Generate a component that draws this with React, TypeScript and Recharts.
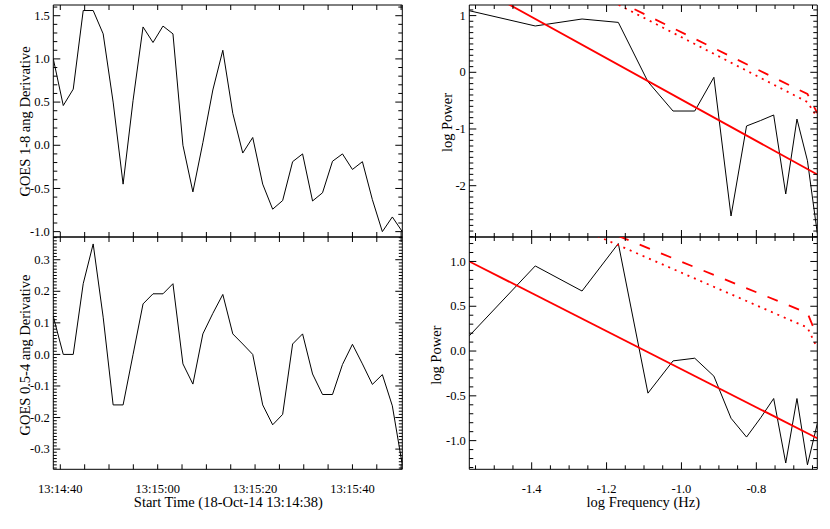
import React from 'react';
import { LineChart, Line, XAxis, YAxis, ReferenceArea } from 'recharts';

const FONT = '"Liberation Serif", "Times New Roman", serif';

// GOES sampling: first sample in seconds after 13:14:38, 2.048 s cadence
const firstSample = 0.56;
const cadence = 2.048;

// GOES 1-8 ang derivative
const goesLong = [
  1.0, 0.46, 0.65, 1.56, 1.56, 1.29, 0.5, -0.45, 0.52, 1.37, 1.19, 1.38,
  1.29, 0.0, -0.54, 0.03, 0.64, 1.1, 0.37, -0.09, 0.09, -0.45, -0.74, -0.64,
  -0.19, -0.1, -0.645, -0.55, -0.185, -0.1, -0.28, -0.19, -0.63, -1.0, -0.83, -1.0,
];

// GOES 0.5-4 ang derivative
const goesShort = [
  0.12, 0.0, 0.0, 0.224, 0.35, 0.118, -0.16, -0.16, 0.0, 0.16, 0.192, 0.192,
  0.224, -0.03, -0.094, 0.065, 0.13, 0.19, 0.065, 0.033, 0.0, -0.16, -0.223, -0.19,
  0.033, 0.065, -0.062, -0.127, -0.127, -0.032, 0.032, -0.03, -0.095, -0.064, -0.163, -0.35,
];

const timeTickValues = [2, 22, 42, 62];
const timeTickLabels = ['13:14:40', '13:15:00', '13:15:20', '13:15:40'];

// log frequency (Hz) of the periodogram bins
const logFreq = [
  -1.5666, -1.3905, -1.2655, -1.1686, -1.0895, -1.0225, -0.9645, -0.9134,
  -0.8676, -0.8262, -0.7884, -0.7537, -0.7215, -0.6915, -0.6635, -0.6372,
];
const powerLong = [
  1.086, 0.817, 0.94, 0.88, -0.166, -0.683, -0.683, -0.088,
  -2.535, -0.947, -0.85, -0.753, -2.146, -0.825, -1.559, -2.84,
];
const powerShort = [
  0.17, 0.95, 0.67, 1.2, -0.47, -0.11, -0.08, -0.28,
  -0.75, -0.96, -0.745, -0.53, -1.25, -0.53, -1.27, -0.81,
];

// power-law fit (first/last bin) and confidence levels (first, second last, last bin)
const fitLong = [1.583, -1.803];
const fitShort = [1.0, -0.973];
const conf95Long = [2.539, -0.383, -0.72];
const conf99Long = [2.546, -0.524, -0.8];
const conf95Short = [1.962, 0.424, 0.16];
const conf99Short = [1.906, 0.262, 0.03];

const range = (start: number, stop: number, step: number) => {
  const n = Math.floor((stop - start) / step + 1e-6) + 1;
  return Array.from({ length: n }, (_, i) => Math.round((start + i * step) * 1e6) / 1e6);
};
const multipleOf = (step: number) => (v: number) => {
  const q = v / step;
  return Math.abs(q - Math.round(q)) < 1e-6;
};

type Pt = { x: number; y: number };
type Series = { points: Pt[]; color: string; width: number; dash?: string };

type PanelCfg = {
  plot: [number, number, number, number]; // left, top, right, bottom (page px)
  column: [number, number];
  below: number;
  xDomain: [number, number];
  yDomain: [number, number];
  xTicks: number[];
  yTicks: number[];
  xMajor: (v: number) => boolean;
  yMajor: (v: number) => boolean;
  xLen: [number, number];
  yLen: [number, number];
  xLabel?: (v: number) => string;
  yLabel: (v: number) => string;
  series: Series[];
};

// tick labels from the axes
const makeXTick = (c: PanelCfg) => (props: any) => {
  const v = props.payload.value;
  if (!c.xLabel || !c.xMajor(v)) return <g />;
  return (
    <text x={Number(props.x)} y={Number(props.y) + 23.2} textAnchor="middle" fontSize={12.5} fontFamily={FONT} fill="#000">
      {c.xLabel(v)}
    </text>
  );
};
const makeYTick = (c: PanelCfg) => (props: any) => {
  const v = props.payload.value;
  if (!c.yMajor(v)) return <g />;
  return (
    <text x={Number(props.x) - 3.5} y={Number(props.y) + 4.2} textAnchor="end" fontSize={12.5} fontFamily={FONT} fill="#000">
      {c.yLabel(v)}
    </text>
  );
};

// inward tick marks on all four sides of the frame (decoration layer)
const makeTickMarks = (c: PanelCfg) => {
  const [pl, pt, pr, pb] = c.plot;
  const sx = (v: number) => pl + ((v - c.xDomain[0]) / (c.xDomain[1] - c.xDomain[0])) * (pr - pl);
  const sy = (v: number) => pb - ((v - c.yDomain[0]) / (c.yDomain[1] - c.yDomain[0])) * (pb - pt);
  let d = '';
  c.xTicks.forEach((v) => {
    const len = c.xMajor(v) ? c.xLen[0] : c.xLen[1];
    const x = sx(v).toFixed(2);
    d += `M${x},${pb}v${-len}M${x},${pt}v${len}`;
  });
  c.yTicks.forEach((v) => {
    const len = c.yMajor(v) ? c.yLen[0] : c.yLen[1];
    const y = sy(v).toFixed(2);
    d += `M${pl},${y}h${len}M${pr},${y}h${-len}`;
  });
  return d;
};

const makePanel = (c: PanelCfg) => ({ ...c, xTick: makeXTick(c), yTick: makeYTick(c), marks: makeTickMarks(c) });
type Panel = ReturnType<typeof makePanel>;

function PanelChart({ p }: { p: Panel }) {
  const [pl, pt, pr, pb] = p.plot;
  const width = p.column[1] - p.column[0];
  const height = pb - pt + 5 + p.below;
  return (
    <div style={{ position: 'absolute', left: p.column[0], top: pt - 5, width, height }}>
      <LineChart width={width} height={height} margin={{ top: 5, right: p.column[1] - pr, bottom: 0, left: 0 }}>
        <XAxis type="number" dataKey="x" height={p.below} domain={p.xDomain} ticks={p.xTicks} tick={p.xTick}
          tickSize={0} tickMargin={0} interval={0} allowDataOverflow axisLine={false} tickLine={false} />
        <YAxis type="number" dataKey="y" width={pl - p.column[0]} domain={p.yDomain} ticks={p.yTicks} tick={p.yTick}
          tickSize={0} tickMargin={0} interval={0} allowDataOverflow axisLine={false} tickLine={false} />
        {p.series.map((s, i) => (
          <Line key={i} data={s.points} dataKey="y" type="linear" stroke={s.color} strokeWidth={s.width}
            strokeDasharray={s.dash} dot={false} activeDot={false} isAnimationActive={false} />
        ))}
        <ReferenceArea x1={p.xDomain[0]} x2={p.xDomain[1]} y1={p.yDomain[0]} y2={p.yDomain[1]}
          fill="none" fillOpacity={0} stroke="#000" strokeWidth={1} ifOverflow="visible" />
      </LineChart>
    </div>
  );
}

const timeSeries = (vals: number[]) => vals.map((y, i) => ({ x: firstSample + i * cadence, y }));
const freqSeries = (vals: number[]) => vals.map((y, i) => ({ x: logFreq[i], y }));
const fitSeries = (vals: number[]) => [
  { x: logFreq[0], y: vals[0] },
  { x: logFreq[logFreq.length - 1], y: vals[1] },
];
const confSeries = (vals: number[]) => [
  { x: logFreq[0], y: vals[0] },
  { x: logFreq[logFreq.length - 2], y: vals[1] },
  { x: logFreq[logFreq.length - 1], y: vals[2] },
];

const fmt1 = (v: number) => (Math.round(v * 100) / 100).toFixed(1);
const fmt0 = (v: number) => (Math.round(v * 100) / 100).toFixed(0);
const timeFmt = (v: number) => timeTickLabels[timeTickValues.indexOf(v)] ?? '';

const LEFT: [number, number] = [0, 410];
const RIGHT: [number, number] = [410, 830];
const timeDomain: [number, number] = [firstSample, firstSample + (goesLong.length - 1) * cadence];
const freqDomain: [number, number] = [logFreq[0], logFreq[logFreq.length - 1]];
const timeTicks = range(2, 72, 5);
const freqTicks = range(-1.55, -0.65, 0.05);
const isTimeMajor = (v: number) => timeTickValues.includes(v);
const red = '#ff0000';

const panels: Panel[] = [
  makePanel({
    plot: [53.3, 5, 402.3, 237], column: LEFT, below: 6,
    xDomain: timeDomain, yDomain: [-1.062, 1.624],
    xTicks: timeTicks, yTicks: range(-1.0, 1.6, 0.1),
    xMajor: isTimeMajor, yMajor: multipleOf(0.5), xLen: [5, 5], yLen: [7, 4],
    yLabel: fmt1,
    series: [{ points: timeSeries(goesLong), color: '#000', width: 1 }],
  }),
  makePanel({
    plot: [53.3, 237, 402.3, 469.3], column: LEFT, below: 59.7,
    xDomain: timeDomain, yDomain: [-0.364, 0.372],
    xTicks: timeTicks, yTicks: range(-0.36, 0.37, 0.01),
    xMajor: isTimeMajor, yMajor: multipleOf(0.1), xLen: [5, 5], yLen: [7, 3.5],
    xLabel: timeFmt, yLabel: fmt1,
    series: [{ points: timeSeries(goesShort), color: '#000', width: 1 }],
  }),
  makePanel({
    plot: [469.3, 5, 817.3, 237], column: RIGHT, below: 6,
    xDomain: freqDomain, yDomain: [-2.905, 1.187],
    xTicks: freqTicks, yTicks: range(-2.9, 1.1, 0.1),
    xMajor: multipleOf(0.2), yMajor: multipleOf(1), xLen: [7, 4], yLen: [7, 4],
    yLabel: fmt0,
    series: [
      { points: freqSeries(powerLong), color: '#000', width: 1 },
      { points: fitSeries(fitLong), color: red, width: 1.8 },
      { points: confSeries(conf95Long), color: red, width: 1.8, dash: '11 12' },
      { points: confSeries(conf99Long), color: red, width: 1.8, dash: '2 5' },
    ],
  }),
  makePanel({
    plot: [469.3, 237, 817.3, 469.3], column: RIGHT, below: 59.7,
    xDomain: freqDomain, yDomain: [-1.32, 1.273],
    xTicks: freqTicks, yTicks: range(-1.3, 1.2, 0.1),
    xMajor: multipleOf(0.2), yMajor: multipleOf(0.5), xLen: [7, 4], yLen: [7, 4],
    xLabel: fmt1, yLabel: fmt1,
    series: [
      { points: freqSeries(powerShort), color: '#000', width: 1 },
      { points: fitSeries(fitShort), color: red, width: 1.8 },
      { points: confSeries(conf95Short), color: red, width: 1.8, dash: '11 12' },
      { points: confSeries(conf99Short), color: red, width: 1.8, dash: '2 5' },
    ],
  }),
];

export default function App() {
  return (
    <div style={{ position: 'absolute', left: 0, top: 0, width: 830, height: 529, background: '#fff', overflow: 'hidden' }}>
      {panels.map((p, i) => <PanelChart key={i} p={p} />)}
      <svg width={830} height={529} style={{ position: 'absolute', left: 0, top: 0, pointerEvents: 'none' }}>
        {panels.map((p, i) => (
          <path key={i} d={p.marks} stroke="#000" strokeWidth={1} fill="none" />
        ))}
        <g fontFamily={FONT} fontSize={14.5} fill="#000" textAnchor="middle">
          <text transform="translate(30,121.5) rotate(-90)">GOES 1-8 ang Derivative</text>
          <text transform="translate(30,355) rotate(-90)">GOES 0.5-4 ang Derivative</text>
          <text transform="translate(451.5,122.5) rotate(-90)">log Power</text>
          <text transform="translate(440.5,355.2) rotate(-90)">log Power</text>
          <text x={228.3} y={507}>Start Time (18-Oct-14 13:14:38)</text>
          <text x={643.3} y={507}>log Frequency (Hz)</text>
        </g>
      </svg>
    </div>
  );
}
